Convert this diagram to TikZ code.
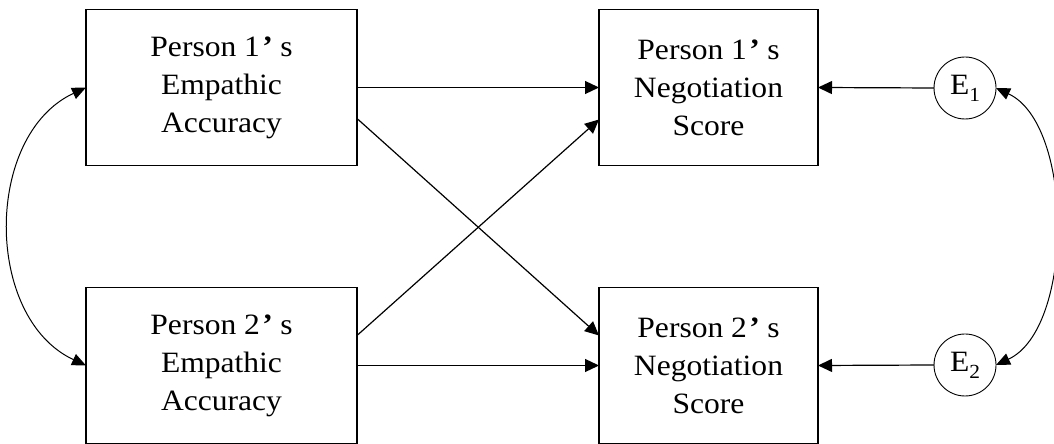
\documentclass[tikz,border=0pt]{standalone}
\usepackage{fontspec}
\setmainfont[FakeStretch=1.07]{Liberation Serif}
\usetikzlibrary{arrows.meta}
\newcommand{\pss}{\hspace{0.08em}\textbf{’}\hspace{0.25em}s}
\begin{document}
\begin{tikzpicture}[x=1pt,y=1pt,
  box/.style={draw, line width=1.6pt, minimum width=#1, minimum height=156pt,
    inner sep=0pt, outer sep=0pt, align=center, font=\fontsize{29.5}{38}\selectfont},
  errc/.style={draw, circle, line width=0.9pt, minimum size=62pt, inner sep=0pt,
    outer sep=0pt, font=\fontsize{29.5}{29.5}\selectfont},
  path/.style={line width=1.2pt, -{Triangle[length=14pt,width=13pt]}},
  cov/.style={line width=1pt, {Triangle[length=14pt,width=12pt]}-{Triangle[length=14pt,width=12pt]}}
]
\useasboundingbox (0,0) rectangle (1054,444);
\node[box=271pt] (lt) at (221.5,356.5) {Person 1\pss\\Empathic\\Accuracy};
\node[box=271pt] (lb) at (221.5,78.5) {Person 2\pss\\Empathic\\Accuracy};
\node[box=219pt] (rt) at (708.5,356.5) {Person 1\pss\\Negotiation\\Score};
\node[box=219pt] (rb) at (708.5,78.5) {Person 2\pss\\Negotiation\\Score};
\node[errc] (e1) at (965,356) {E\raisebox{-7pt}{\fontsize{20}{20}\selectfont 1}};
\node[errc] (e2) at (965,79) {E\raisebox{-7pt}{\fontsize{20}{20}\selectfont 2}};

\draw[path] (lt.east) -- (rt.west);
\draw[path] (lb.east) -- (rb.west);
\draw[path] ([yshift=-31pt]lt.east) -- ([yshift=30pt]rb.west);
\draw[path] ([yshift=30pt]lb.east) -- ([yshift=-32pt]rt.west);
\draw[path] (e1.west) -- (rt.east);
\draw[path] (e2.west) -- (rb.east);

\draw[cov] (lt.west) to[out=205,in=155,looseness=1.04] (lb.west);
\draw[cov] (e1.east) to[out=-25,in=25,looseness=0.8] (e2.east);
\end{tikzpicture}
\end{document}
